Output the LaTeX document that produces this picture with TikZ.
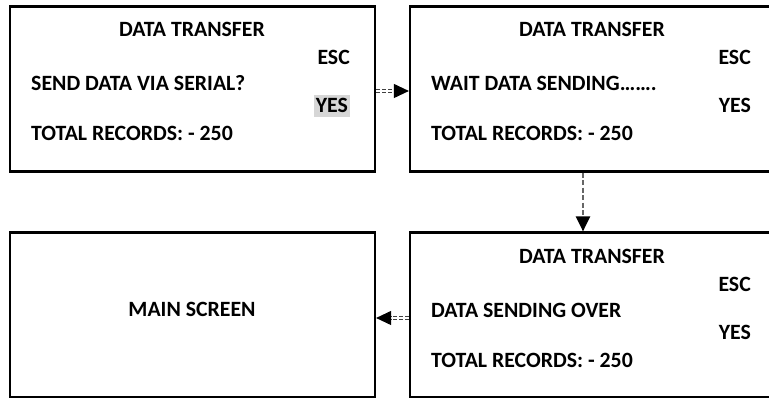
\documentclass[tikz,border=0pt]{standalone}
\usepackage{fontspec}
\setmainfont{Carlito}
\usetikzlibrary{arrows.meta,positioning}

\tikzset{
    screen/.style={draw, line width=2.2pt, minimum width=365pt, minimum height=165pt, inner sep=0pt},
    txt/.style={font=\bfseries\fontsize{21.8}{26}\selectfont, inner sep=0pt},
    hilite/.style={fill=black!16, inner xsep=2pt, inner ysep=4pt},
    flowtwo/.style={draw=black!75, double=white, double distance=1.6pt, line width=1pt,
        dash pattern=on 4pt off 2pt, -{Triangle[length=15pt,width=14pt,black]}},
    flowone/.style={draw=black!60, line width=2.2pt, dash pattern=on 5pt off 2.5pt,
        -{Triangle[length=15pt,width=14pt,black]}}
}

\begin{document}
\begin{tikzpicture}[x=1pt,y=1pt]
    \useasboundingbox (0,0) rectangle (769,398);
    \clip (0,0) rectangle (769,398);

    % screens
    \node[screen] (send) at (192.5,309) {};
    \node[screen] (wait) at (592.5,309) {};
    \node[screen] (main) at (192.5,83) {};
    \node[screen] (over) at (592.5,83) {};

    % send data screen
    \node[txt, anchor=base] (sendtitle) at (192,361) {DATA TRANSFER};
    \node[txt, anchor=base east] (sendesc) at (350,333) {ESC};
    \node[txt, anchor=base west] (sendask) at (31,307) {SEND DATA VIA SERIAL?};
    \node[txt, anchor=base east, hilite] (sendyes) at (350,285) {YES};
    \node[txt, anchor=base west] (sendrec) at (31,257) {TOTAL RECORDS: - 250};

    % waiting screen
    \node[txt, anchor=base] (waittitle) at (592,361) {DATA TRANSFER};
    \node[txt, anchor=base east] (waitesc) at (751,333) {ESC};
    \node[txt, anchor=base west] (waitmsg) at (431,307) {WAIT DATA SENDING…….};
    \node[txt, anchor=base east] (waityes) at (751,285) {YES};
    \node[txt, anchor=base west] (waitrec) at (431,257) {TOTAL RECORDS: - 250};

    % sending over screen
    \node[txt, anchor=base] (overtitle) at (592,134) {DATA TRANSFER};
    \node[txt, anchor=base east] (overesc) at (751,106) {ESC};
    \node[txt, anchor=base west] (overmsg) at (431,80) {DATA SENDING OVER};
    \node[txt, anchor=base east] (overyes) at (751,58) {YES};
    \node[txt, anchor=base west] (overrec) at (431,30) {TOTAL RECORDS: - 250};

    % main screen
    \node[txt, anchor=base] (mainmsg) at (192,81) {MAIN SCREEN};

    % flow
    \draw[flowtwo] ([yshift=-2pt]send.east) -- ([yshift=-2pt]wait.west);
    \draw[flowone] ([xshift=-9.5pt]wait.south) -- ([xshift=-9.5pt]over.north);
    \draw[flowtwo] ([yshift=-3pt]over.west) -- ([yshift=-3pt]main.east);
\end{tikzpicture}
\end{document}
